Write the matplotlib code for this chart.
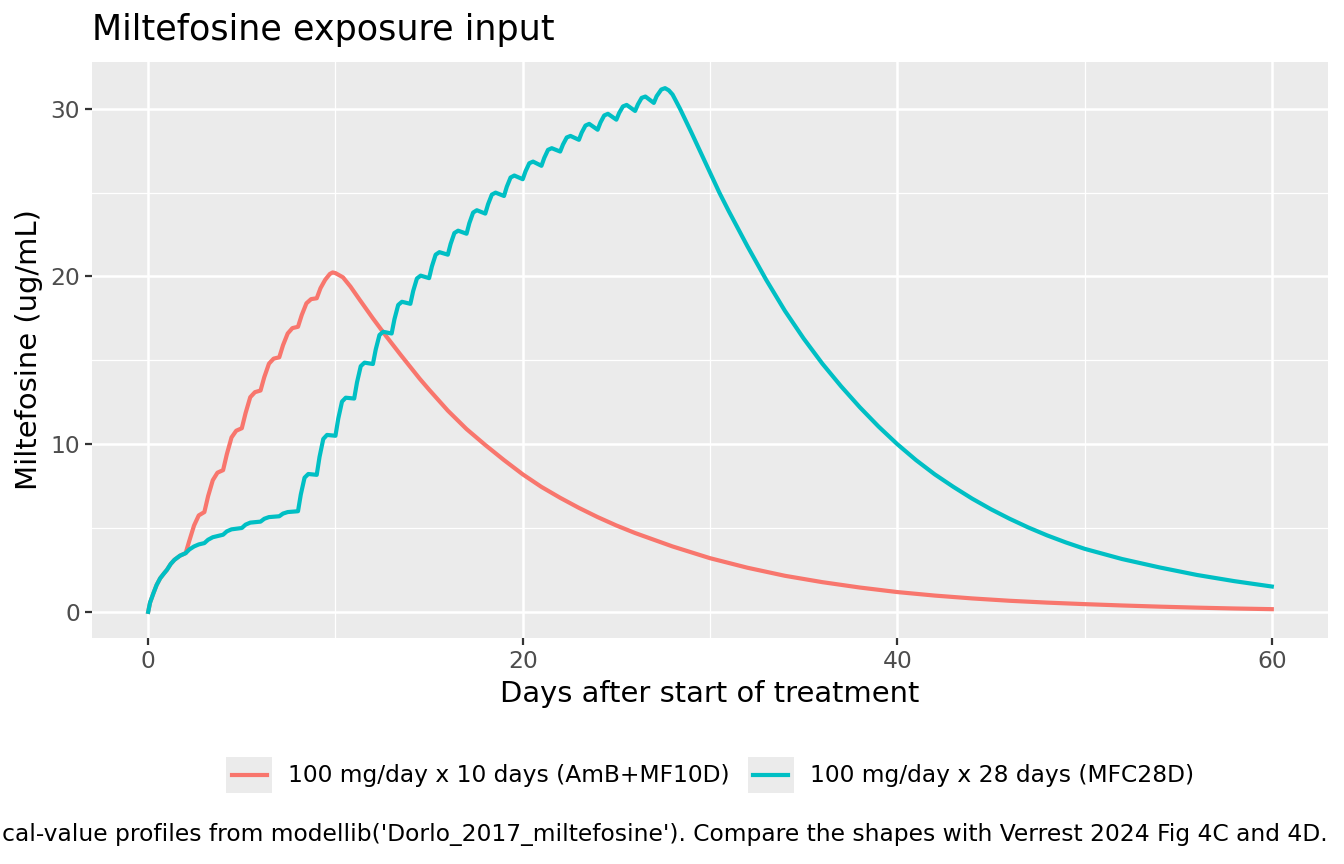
import matplotlib
matplotlib.use('Agg')
import matplotlib.pyplot as plt
from matplotlib.lines import Line2D
from matplotlib.patches import Rectangle


# values (days, ug/mL)
mf10_days = [0, 0.1, 0.28, 0.45, 0.64, 0.85, 1.0, 1.2, 1.4, 1.7, 2.0,
             2.2, 2.45, 2.7, 3.0, 3.2, 3.45, 3.7, 4.0, 4.2, 4.45, 4.7, 5.0,
             5.2, 5.45, 5.7, 6.0, 6.2, 6.45, 6.7, 7.0, 7.2, 7.45, 7.7, 8.0,
             8.2, 8.45, 8.7, 9.0, 9.2, 9.45, 9.7, 9.85,
             10.0, 10.4, 10.8, 11.3, 12.0, 12.7, 13.5, 14.5, 15.0, 16.0,
             17.0, 18.0, 19.0, 20.0, 21.0, 22.0, 23.0, 24.0, 25.0, 26.0,
             27.0, 28.0, 29.0, 30.0, 32.0, 34.0, 36.0, 38.0, 40.0, 42.0,
             44.0, 46.0, 48.0, 50.0, 52.0, 54.0, 56.0, 58.0, 60.0]
mf10_conc = [0, 0.55, 1.11, 1.6, 2.0, 2.3, 2.5, 2.85, 3.1, 3.35, 3.5,
             4.25, 5.15, 5.75, 5.95, 6.9, 7.85, 8.3, 8.45, 9.4, 10.4, 10.8, 10.95,
             11.85, 12.8, 13.1, 13.2, 14.0, 14.8, 15.1, 15.18, 15.9, 16.6, 16.92, 17.0,
             17.7, 18.4, 18.65, 18.7, 19.3, 19.8, 20.15, 20.24,
             20.2, 19.95, 19.4, 18.6, 17.5, 16.45, 15.3, 13.9, 13.25, 12.0,
             10.9, 9.95, 9.05, 8.2, 7.45, 6.8, 6.2, 5.65, 5.15, 4.7,
             4.3, 3.9, 3.55, 3.2, 2.63, 2.15, 1.77, 1.45, 1.18, 0.97,
             0.8, 0.66, 0.55, 0.46, 0.38, 0.31, 0.25, 0.2, 0.16]

mfc28_days = [0, 0.1, 0.28, 0.45, 0.64, 0.85, 1.0, 1.2, 1.4, 1.7, 2.0,
              2.2, 2.45, 2.7, 3.0, 3.2, 3.45, 4.0, 4.2, 4.45, 5.0,
              5.2, 5.45, 6.0, 6.2, 6.45, 7.0, 7.2, 7.45, 8.0,
              8.15, 8.35, 8.55, 9.0, 9.15, 9.35, 9.55, 10.0,
              10.15, 10.35, 10.55, 11.0, 11.15, 11.35, 11.55, 12.0,
              12.15, 12.35, 12.55, 13.0, 13.15, 13.35, 13.55, 14.0,
              14.15, 14.35, 14.55, 15.0, 15.15, 15.35, 15.55, 16.0,
              16.15, 16.35, 16.55, 17.0, 17.15, 17.35, 17.55, 18.0,
              18.15, 18.35, 18.55, 19.0, 19.15, 19.35, 19.55, 20.0,
              20.15, 20.35, 20.55, 21.0, 21.15, 21.35, 21.55, 22.0,
              22.15, 22.35, 22.55, 23.0, 23.15, 23.35, 23.55, 24.0,
              24.15, 24.35, 24.55, 25.0, 25.15, 25.35, 25.55, 26.0,
              26.15, 26.35, 26.55, 27.0, 27.15, 27.4, 27.6,
              27.8, 28.0, 28.4, 29.0, 29.5, 30.0, 30.5, 31.0, 32.0, 33.0,
              34.0, 35.0, 36.0, 37.0, 38.0, 39.0, 40.0, 41.0, 42.0, 43.0,
              44.0, 45.0, 46.0, 47.0, 48.0, 49.0, 50.0, 52.0, 54.0, 56.0,
              58.0, 60.0]
mfc28_conc = [0, 0.55, 1.11, 1.6, 2.0, 2.3, 2.5, 2.85, 3.1, 3.35, 3.5,
              3.72, 3.9, 4.02, 4.1, 4.3, 4.45, 4.6, 4.8, 4.92, 5.0,
              5.2, 5.32, 5.38, 5.55, 5.65, 5.7, 5.86, 5.95, 6.0,
              7.0, 8.0, 8.22, 8.17, 9.24, 10.31, 10.55, 10.5,
              11.52, 12.54, 12.77, 12.72, 13.68, 14.65, 14.86, 14.78,
              15.64, 16.51, 16.7, 16.6, 17.45, 18.3, 18.49, 18.37,
              19.13, 19.88, 20.05, 19.9, 20.6, 21.3, 21.45, 21.3,
              21.94, 22.59, 22.73, 22.55, 23.18, 23.81, 23.95, 23.75,
              24.31, 24.88, 25.0, 24.8, 25.35, 25.9, 26.02, 25.8,
              26.27, 26.75, 26.85, 26.6, 27.07, 27.55, 27.65, 27.45,
              27.87, 28.29, 28.38, 28.15, 28.58, 29.0, 29.1, 28.75,
              29.18, 29.6, 29.7, 29.35, 29.75, 30.14, 30.23, 29.87,
              30.26, 30.65, 30.73, 30.35, 30.75, 31.15, 31.23,
              31.1, 30.85, 30.0, 28.6, 27.4, 26.2, 25.0, 23.9, 21.8, 19.8,
              17.95, 16.3, 14.8, 13.45, 12.2, 11.05, 10.0, 9.05, 8.2, 7.45,
              6.75, 6.12, 5.55, 5.03, 4.56, 4.14, 3.76, 3.15, 2.65, 2.2,
              1.83, 1.51]

series_labels = ['100 mg/day x 10 days (AmB+MF10D)', '100 mg/day x 28 days (MFC28D)']
series_colors = ['#F8766D', '#00BFC4']

x_ticks = [0, 20, 40, 60]
y_ticks = [0, 10, 20, 30]

title = 'Miltefosine exposure input'
x_label = 'Days after start of treatment'
y_label = 'Miltefosine (ug/mL)'
caption = ("Typical-value profiles from modellib('Dorlo_2017_miltefosine'). "
           "Compare the shapes with Verrest 2024 Fig 4C and 4D.")

LW = 3.0


class KeyHandler:
    '''
    ggplot-like legend key: grey square with a short line across it
    '''
    def legend_artist(self, legend, orig_handle, fontsize, handlebox):
        x0, y0 = -handlebox.xdescent, -handlebox.ydescent
        w, h = handlebox.width, handlebox.height
        tr = handlebox.get_transform()
        rect = Rectangle((x0, y0), w, h, facecolor='#EBEBEB', edgecolor='none', transform=tr)
        line = Line2D([x0 + 0.12 * w, x0 + 0.88 * w], [y0 + h / 2, y0 + h / 2],
                      color=orig_handle.get_color(), lw=LW, transform=tr)
        handlebox.add_artist(rect)
        handlebox.add_artist(line)
        return rect


W, H = 1344, 864
fig = plt.figure(figsize=(W / 100, H / 100), dpi=100)
ax = fig.add_axes([92 / W, 1 - 638 / H, 1236 / W, 576 / H])
ax.set_facecolor('#EBEBEB')

handles = []
for days, conc, col in zip([mf10_days, mfc28_days], [mf10_conc, mfc28_conc], series_colors):
    ln, = ax.plot(days, conc, color=col, lw=LW, solid_joinstyle='round', zorder=3)
    handles.append(ln)

ax.set_xlim(-3, 63)
ax.set_ylim(-1.56, 32.79)
ax.set_xticks(x_ticks)
ax.set_yticks(y_ticks)
ax.set_xticks([10, 30, 50], minor=True)
ax.set_yticks([5, 15, 25], minor=True)
ax.grid(which='major', color='white', lw=1.8)
ax.grid(which='minor', color='white', lw=0.9)
ax.set_axisbelow(True)
for s in ax.spines.values():
    s.set_visible(False)
ax.tick_params(which='major', length=4.8, width=1.6, color='#333333',
               labelcolor='#4D4D4D', labelsize=16.8, pad=4)
ax.tick_params(which='minor', length=0)

ax.set_xlabel(x_label, fontsize=20.9, color='black', labelpad=5)
ax.set_ylabel(y_label, fontsize=20.9, color='black', labelpad=5)
fig.text(92 / W, 1 - 30 / H, title, fontsize=25.2, ha='left', va='center')

fig.legend(handles, series_labels, loc='center', bbox_to_anchor=(710 / W, 1 - 775 / H),
           ncol=2, frameon=False, fontsize=16.8, handlelength=1.97, handleheight=1.97,
           handletextpad=0.69, columnspacing=0.77,
           handler_map={Line2D: KeyHandler()})

# caption runs off the left edge in the reference too
fig.text(1328 / W, 1 - 834 / H, caption, fontsize=16.8, ha='right', va='center')

fig.savefig('out.png', dpi=100, facecolor='white')
